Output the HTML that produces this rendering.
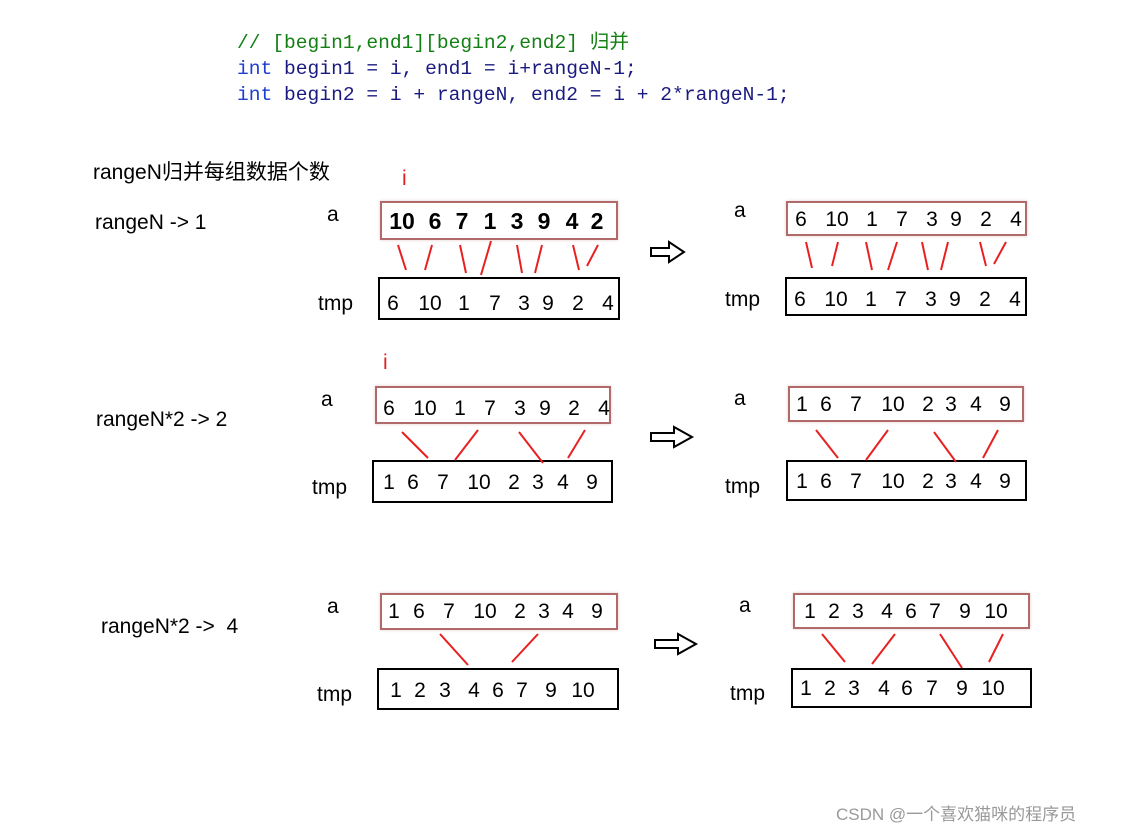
<!DOCTYPE html>
<html><head><meta charset="utf-8"><style>
body{margin:0;background:#fff;width:1122px;height:832px;position:relative;overflow:hidden;font-family:"Liberation Sans","Noto Sans CJK SC",sans-serif}
.t{position:absolute;white-space:pre;font-size:21px;color:#000;line-height:24px}
.d{position:absolute;white-space:pre;font-size:21px;color:#000;line-height:24px;transform:translateX(-50%)}
.b{font-weight:bold;font-size:23px}
.code{position:absolute;font-family:"Liberation Mono","Noto Sans CJK SC",monospace;font-size:19.6px;white-space:pre;color:#1a1a80;line-height:24px}
.kw{color:#1f3fd0}
.box{position:absolute;box-sizing:border-box}
.a{border:2px solid #b06a6a;box-shadow:0 0 3px #e8caca}
.k{border:2px solid #000}
</style></head><body>
<div class="code" style="left:237px;top:31px;color:#138013">// [begin1,end1][begin2,end2] 归并</div>
<div class="code" style="left:237px;top:57px"><span class="kw">int</span> begin1 = i, end1 = i+rangeN-1;</div>
<div class="code" style="left:237px;top:83px"><span class="kw">int</span> begin2 = i + rangeN, end2 = i + 2*rangeN-1;</div>

<div class="t" style="left:93px;top:161px">rangeN归并每组数据个数</div>
<div class="t" style="left:95px;top:211px">rangeN -&gt; 1</div>
<div class="t" style="left:96px;top:408px">rangeN*2 -&gt; 2</div>
<div class="t" style="left:101px;top:615px">rangeN*2 -&gt;  4</div>
<div class="t" style="left:402px;top:167px;color:#e02020">i</div>
<div class="t" style="left:383px;top:351px;color:#e02020">i</div>

<div class="t" style="left:327px;top:203px">a</div>
<div class="box a" style="left:380px;top:201px;width:238px;height:39px"></div>
<div class="t" style="left:318px;top:292px">tmp</div>
<div class="box k" style="left:378px;top:277px;width:242px;height:43px"></div>
<div class="t" style="left:734px;top:199px">a</div>
<div class="box a" style="left:786px;top:201px;width:241px;height:35px"></div>
<div class="t" style="left:725px;top:288px">tmp</div>
<div class="box k" style="left:785px;top:277px;width:242px;height:39px"></div>

<div class="t" style="left:321px;top:388px">a</div>
<div class="box a" style="left:375px;top:386px;width:236px;height:38px"></div>
<div class="t" style="left:312px;top:476px">tmp</div>
<div class="box k" style="left:372px;top:460px;width:241px;height:43px"></div>
<div class="t" style="left:734px;top:387px">a</div>
<div class="box a" style="left:788px;top:386px;width:236px;height:36px"></div>
<div class="t" style="left:725px;top:475px">tmp</div>
<div class="box k" style="left:786px;top:460px;width:241px;height:41px"></div>

<div class="t" style="left:327px;top:595px">a</div>
<div class="box a" style="left:380px;top:593px;width:238px;height:37px"></div>
<div class="t" style="left:317px;top:683px">tmp</div>
<div class="box k" style="left:377px;top:668px;width:242px;height:42px"></div>
<div class="t" style="left:739px;top:594px">a</div>
<div class="box a" style="left:793px;top:593px;width:237px;height:36px"></div>
<div class="t" style="left:730px;top:682px">tmp</div>
<div class="box k" style="left:791px;top:668px;width:241px;height:40px"></div>

<!-- row1 numbers -->
<div class="d b" style="left:402px;top:209px">10</div><div class="d b" style="left:435px;top:209px">6</div><div class="d b" style="left:462px;top:209px">7</div><div class="d b" style="left:490px;top:209px">1</div><div class="d b" style="left:517px;top:209px">3</div><div class="d b" style="left:544px;top:209px">9</div><div class="d b" style="left:572px;top:209px">4</div><div class="d b" style="left:597px;top:209px">2</div>
<div class="d" style="left:393px;top:292px">6</div><div class="d" style="left:430px;top:292px">10</div><div class="d" style="left:464px;top:292px">1</div><div class="d" style="left:495px;top:292px">7</div><div class="d" style="left:524px;top:292px">3</div><div class="d" style="left:548px;top:292px">9</div><div class="d" style="left:578px;top:292px">2</div><div class="d" style="left:608px;top:292px">4</div>
<div class="d" style="left:801px;top:208px">6</div><div class="d" style="left:837px;top:208px">10</div><div class="d" style="left:872px;top:208px">1</div><div class="d" style="left:902px;top:208px">7</div><div class="d" style="left:932px;top:208px">3</div><div class="d" style="left:956px;top:208px">9</div><div class="d" style="left:986px;top:208px">2</div><div class="d" style="left:1016px;top:208px">4</div>
<div class="d" style="left:800px;top:288px">6</div><div class="d" style="left:836px;top:288px">10</div><div class="d" style="left:871px;top:288px">1</div><div class="d" style="left:901px;top:288px">7</div><div class="d" style="left:931px;top:288px">3</div><div class="d" style="left:955px;top:288px">9</div><div class="d" style="left:985px;top:288px">2</div><div class="d" style="left:1015px;top:288px">4</div>

<!-- row2 numbers -->
<div class="d" style="left:389px;top:397px">6</div><div class="d" style="left:425px;top:397px">10</div><div class="d" style="left:460px;top:397px">1</div><div class="d" style="left:490px;top:397px">7</div><div class="d" style="left:520px;top:397px">3</div><div class="d" style="left:545px;top:397px">9</div><div class="d" style="left:574px;top:397px">2</div><div class="d" style="left:604px;top:397px">4</div>
<div class="d" style="left:389px;top:471px">1</div><div class="d" style="left:413px;top:471px">6</div><div class="d" style="left:443px;top:471px">7</div><div class="d" style="left:479px;top:471px">10</div><div class="d" style="left:514px;top:471px">2</div><div class="d" style="left:538px;top:471px">3</div><div class="d" style="left:563px;top:471px">4</div><div class="d" style="left:592px;top:471px">9</div>
<div class="d" style="left:802px;top:393px">1</div><div class="d" style="left:826px;top:393px">6</div><div class="d" style="left:856px;top:393px">7</div><div class="d" style="left:893px;top:393px">10</div><div class="d" style="left:928px;top:393px">2</div><div class="d" style="left:951px;top:393px">3</div><div class="d" style="left:976px;top:393px">4</div><div class="d" style="left:1005px;top:393px">9</div>
<div class="d" style="left:802px;top:470px">1</div><div class="d" style="left:826px;top:470px">6</div><div class="d" style="left:856px;top:470px">7</div><div class="d" style="left:893px;top:470px">10</div><div class="d" style="left:928px;top:470px">2</div><div class="d" style="left:951px;top:470px">3</div><div class="d" style="left:976px;top:470px">4</div><div class="d" style="left:1005px;top:470px">9</div>

<!-- row3 numbers -->
<div class="d" style="left:394px;top:600px">1</div><div class="d" style="left:419px;top:600px">6</div><div class="d" style="left:449px;top:600px">7</div><div class="d" style="left:485px;top:600px">10</div><div class="d" style="left:520px;top:600px">2</div><div class="d" style="left:544px;top:600px">3</div><div class="d" style="left:568px;top:600px">4</div><div class="d" style="left:597px;top:600px">9</div>
<div class="d" style="left:396px;top:679px">1</div><div class="d" style="left:420px;top:679px">2</div><div class="d" style="left:445px;top:679px">3</div><div class="d" style="left:474px;top:679px">4</div><div class="d" style="left:498px;top:679px">6</div><div class="d" style="left:522px;top:679px">7</div><div class="d" style="left:551px;top:679px">9</div><div class="d" style="left:583px;top:679px">10</div>
<div class="d" style="left:810px;top:600px">1</div><div class="d" style="left:834px;top:600px">2</div><div class="d" style="left:858px;top:600px">3</div><div class="d" style="left:887px;top:600px">4</div><div class="d" style="left:911px;top:600px">6</div><div class="d" style="left:935px;top:600px">7</div><div class="d" style="left:965px;top:600px">9</div><div class="d" style="left:996px;top:600px">10</div>
<div class="d" style="left:806px;top:677px">1</div><div class="d" style="left:830px;top:677px">2</div><div class="d" style="left:854px;top:677px">3</div><div class="d" style="left:884px;top:677px">4</div><div class="d" style="left:907px;top:677px">6</div><div class="d" style="left:932px;top:677px">7</div><div class="d" style="left:962px;top:677px">9</div><div class="d" style="left:993px;top:677px">10</div>

<svg style="position:absolute;left:0;top:0" width="1122" height="832">
<g stroke="#e82020" stroke-width="2">
<line x1="398" y1="245" x2="406" y2="270"/><line x1="432" y1="245" x2="425" y2="270"/>
<line x1="460" y1="245" x2="466" y2="273"/><line x1="491" y1="241" x2="481" y2="275"/>
<line x1="517" y1="245" x2="522" y2="273"/><line x1="542" y1="245" x2="535" y2="273"/>
<line x1="573" y1="245" x2="579" y2="270"/><line x1="598" y1="245" x2="587" y2="266"/>
<line x1="806" y1="242" x2="812" y2="268"/><line x1="838" y1="242" x2="832" y2="266"/>
<line x1="866" y1="242" x2="872" y2="270"/><line x1="897" y1="242" x2="888" y2="270"/>
<line x1="922" y1="242" x2="928" y2="270"/><line x1="948" y1="242" x2="941" y2="270"/>
<line x1="980" y1="242" x2="986" y2="266"/><line x1="1006" y1="242" x2="994" y2="264"/>
<line x1="402" y1="432" x2="428" y2="458"/><line x1="478" y1="430" x2="455" y2="460"/>
<line x1="519" y1="432" x2="543" y2="463"/><line x1="585" y1="430" x2="568" y2="458"/>
<line x1="816" y1="430" x2="838" y2="458"/><line x1="888" y1="430" x2="866" y2="460"/>
<line x1="934" y1="432" x2="956" y2="462"/><line x1="998" y1="430" x2="983" y2="458"/>
<line x1="440" y1="634" x2="468" y2="665"/><line x1="538" y1="634" x2="512" y2="662"/>
<line x1="822" y1="634" x2="845" y2="662"/><line x1="895" y1="634" x2="872" y2="664"/>
<line x1="940" y1="634" x2="962" y2="668"/><line x1="1003" y1="634" x2="989" y2="662"/>
</g>
<g fill="#fff" stroke="#000" stroke-width="2">
<polygon points="651,248 669,248 669,242 684,252 669,262 669,256 651,256"/>
<polygon points="651,433 674,433 674,427 692,437 674,447 674,441 651,441"/>
<polygon points="655,640 678,640 678,634 696,644 678,654 678,648 655,648"/>
</g>
</svg>
<div class="t" style="left:836px;top:803px;font-size:17px;color:#999">CSDN @一个喜欢猫咪的程序员</div>
</body></html>
